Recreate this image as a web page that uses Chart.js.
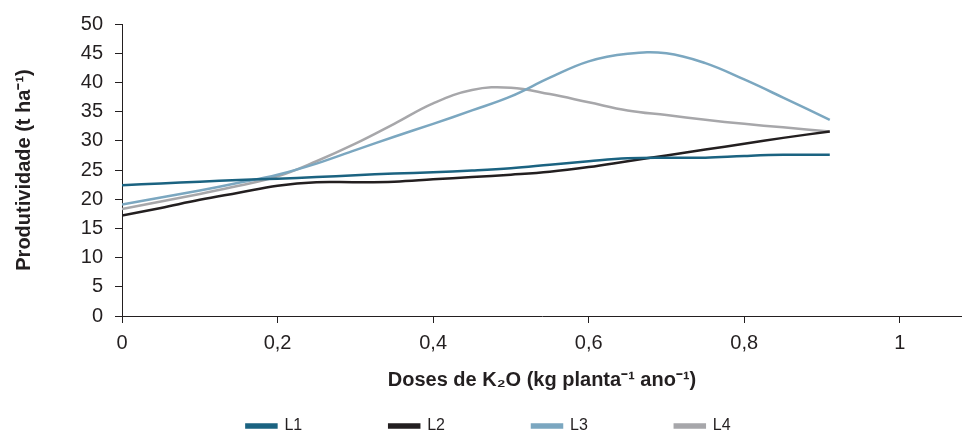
<!DOCTYPE html>
<html>
<head>
<meta charset="utf-8">
<script src="https://cdn.jsdelivr.net/npm/chart.js"></script>
<style>
    body { margin: 0; background: #fff; }
    #container-grafico { width: 962px; height: 433px; }
</style>
</head>
<body>
<div id="container-grafico"><canvas id="grafico"></canvas></div>
<script>
// doses de K2O (kg planta-1 ano-1)
const doses = [0, 0.05, 0.1, 0.15, 0.2, 0.25, 0.3, 0.35, 0.4, 0.45, 0.5, 0.55, 0.6, 0.65, 0.7, 0.75, 0.8, 0.85, 0.91];

// produtividade (t ha-1)
const L1 = [22.4, 22.7, 23.0, 23.3, 23.5, 23.8, 24.1, 24.4, 24.6, 24.9, 25.3, 25.9, 26.5, 27.0, 27.1, 27.1, 27.4, 27.6, 27.6];
const L2 = [17.2, 18.5, 19.9, 21.1, 22.3, 22.9, 22.9, 23.0, 23.4, 23.8, 24.2, 24.7, 25.5, 26.5, 27.5, 28.5, 29.5, 30.5, 31.6];
const L3 = [19.1, 20.3, 21.5, 22.8, 24.2, 26.1, 28.4, 30.7, 32.9, 35.2, 37.6, 40.8, 43.6, 44.9, 45.0, 43.3, 40.5, 37.4, 33.6];
const L4 = [18.3, 19.6, 20.9, 22.3, 23.9, 26.5, 29.5, 32.9, 36.4, 38.7, 39.1, 38.0, 36.6, 35.2, 34.4, 33.6, 32.9, 32.3, 31.6];

const nomesSeries = ['L1', 'L2', 'L3', 'L4'];
const coresSeries = ['#1b6381', '#231f20', '#7ba7c0', '#a7a7aa'];
const xTickLabels = ['0', '0,2', '0,4', '0,6', '0,8', '1'];

const fonte = '"Liberation Sans", Arial, Helvetica, sans-serif';
const corTexto = '#231f20';

function pontos(valores) {
    return doses.map((d, i) => ({ x: d, y: valores[i] }));
}

const series = [L1, L2, L3, L4];
const datasets = series.map((valores, i) => ({
    label: nomesSeries[i],
    data: pontos(valores),
    borderColor: coresSeries[i],
    backgroundColor: coresSeries[i],
    borderWidth: 2.5,
    pointRadius: 0,
    fill: false,
    tension: 0.4,
}));

// legenda com espaçamento largo entre itens
const ajusteLegenda = {
    id: 'ajusteLegenda',
    beforeInit(chart) {
        const fitOriginal = chart.legend.fit;
        chart.legend.fit = function() {
            fitOriginal.bind(chart.legend)();
            this.height = 37;
        };
    },
    afterLayout(chart) {
        const pad = chart.legend.options.labels.padding;
        chart.legend.top = 426 - 8 - pad;
        chart.legend.left = 15;
    }
};

const context = document.getElementById('grafico').getContext('2d');
const chartInstance = new Chart(context, {
    type: 'line',
    data: { datasets: datasets },
    options: {
        responsive: true,
        maintainAspectRatio: false,
        animation: false,
        layout: { padding: { top: 23, left: 0, right: 0, bottom: 0 } },
        plugins: {
            legend: {
                position: 'bottom',
                labels: {
                    boxWidth: 30,
                    boxHeight: 3,
                    padding: 87,
                    color: corTexto,
                    font: { family: fonte, size: 16 },
                },
            },
            tooltip: { enabled: false },
        },
        scales: {
            x: {
                type: 'linear',
                min: 0,
                max: 1.08,
                afterFit: function(scale) { scale.height = 80; },
                border: { display: true, color: corTexto, width: 1 },
                grid: { drawOnChartArea: false, drawTicks: true, tickLength: 7, color: corTexto },
                ticks: {
                    stepSize: 0.2,
                    includeBounds: false,
                    padding: 8,
                    color: corTexto,
                    font: { family: fonte, size: 20 },
                    callback: function(value, index) { return xTickLabels[index]; },
                },
                title: {
                    display: true,
                    text: 'Doses de K₂O (kg planta⁻¹ ano⁻¹)',
                    color: corTexto,
                    font: { family: fonte, size: 20, weight: 'bold' },
                    padding: { top: 0, bottom: 4 },
                },
            },
            y: {
                min: 0,
                max: 50,
                afterFit: function(scale) { scale.width = 122; },
                border: { display: true, color: corTexto, width: 1 },
                grid: { drawOnChartArea: false, drawTicks: true, tickLength: 7, color: corTexto },
                ticks: {
                    stepSize: 5,
                    padding: 12,
                    color: corTexto,
                    font: { family: fonte, size: 20 },
                },
                title: {
                    display: true,
                    text: 'Produtividade (t ha⁻¹)',
                    color: corTexto,
                    font: { family: fonte, size: 20, weight: 'bold' },
                    padding: { top: 12, bottom: 0 },
                },
            },
        },
    },
    plugins: [ajusteLegenda],
});
</script>
</body>
</html>
